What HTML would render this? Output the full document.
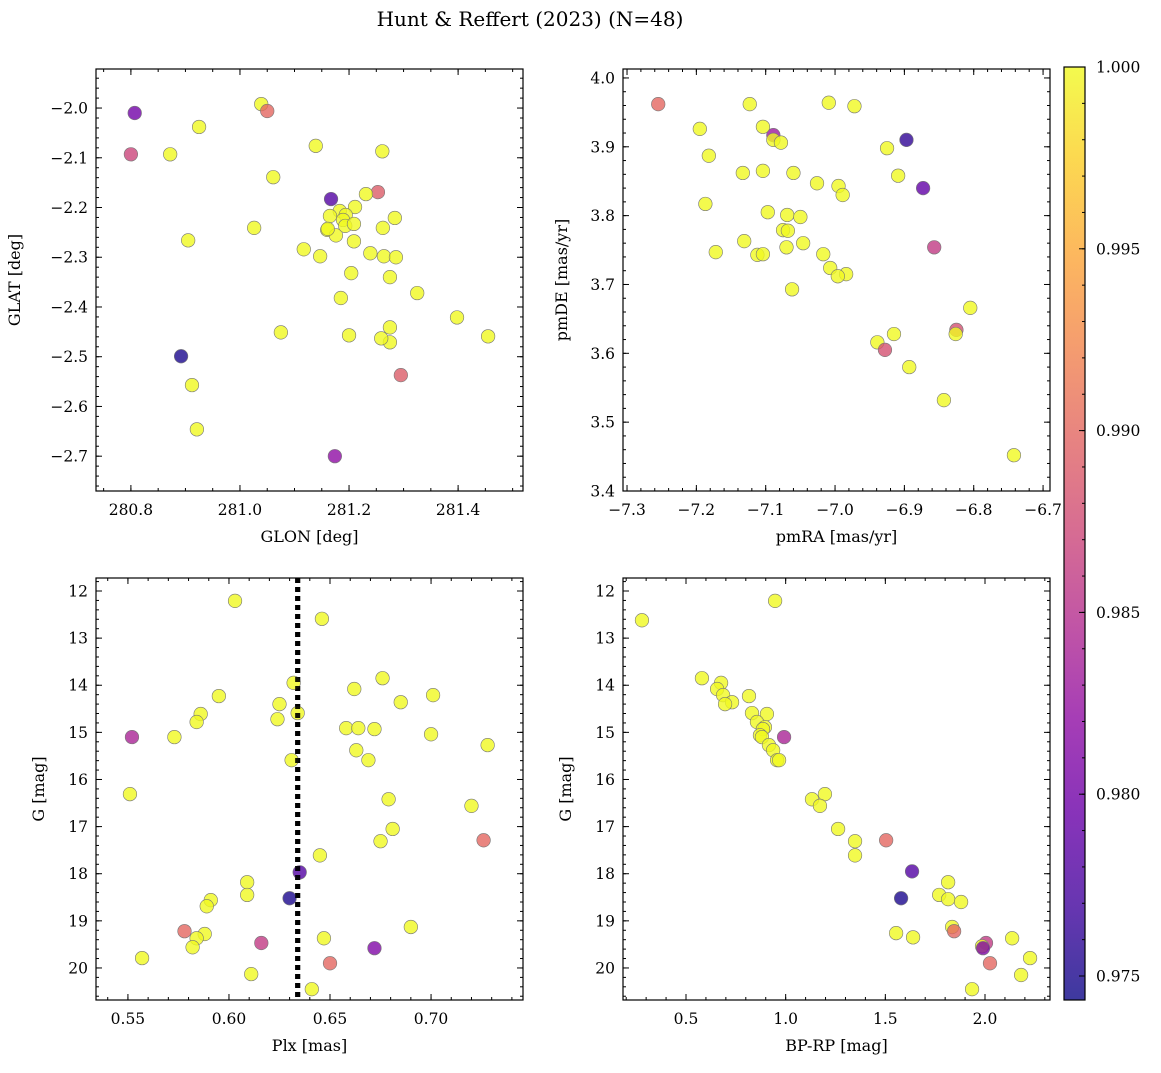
<!DOCTYPE html>
<html><head><meta charset="utf-8"><style>
body{margin:0;background:#fff;}
svg text{font-family:"DejaVu Serif","Liberation Serif",serif;fill:#000;}
</style></head><body>
<svg id="fig" width="1161" height="1068" viewBox="0 0 1161 1068" xmlns="http://www.w3.org/2000/svg">
<defs>
<linearGradient id="plasma" x1="0" y1="1" x2="0" y2="0">
<stop offset="0" stop-color="#0d0887"/><stop offset="0.1" stop-color="#41049d"/><stop offset="0.2" stop-color="#6a00a8"/><stop offset="0.3" stop-color="#8f0da4"/><stop offset="0.4" stop-color="#b12a90"/><stop offset="0.5" stop-color="#cc4778"/><stop offset="0.6" stop-color="#e16462"/><stop offset="0.7" stop-color="#f2844b"/><stop offset="0.8" stop-color="#fca636"/><stop offset="0.9" stop-color="#fcce25"/><stop offset="1" stop-color="#f0f921"/>
</linearGradient>
</defs>
<text x="530" y="26" font-size="20" text-anchor="middle">Hunt &amp; Reffert (2023) (N=48)</text>
</svg>
<script>
// ---- data ----
const p1x=[280.807,280.800,280.872,280.925,281.039,281.050,281.061,281.139,281.261,281.253,281.167,281.231,281.211,281.183,281.194,281.165,281.189,281.160,281.176,281.193,281.209,281.209,281.262,281.284,281.239,281.264,281.286,281.117,281.026,280.905,281.147,281.204,281.185,281.200,281.275,281.259,281.275,281.325,281.398,281.455,281.075,280.892,280.912,280.921,281.174,281.295,281.161,281.275];
const p1y=[-2.010,-2.093,-2.093,-2.038,-1.992,-2.006,-2.139,-2.076,-2.087,-2.169,-2.183,-2.173,-2.199,-2.207,-2.215,-2.217,-2.225,-2.245,-2.256,-2.237,-2.233,-2.268,-2.241,-2.221,-2.292,-2.298,-2.300,-2.284,-2.241,-2.266,-2.298,-2.332,-2.382,-2.457,-2.471,-2.463,-2.441,-2.372,-2.421,-2.459,-2.451,-2.499,-2.557,-2.646,-2.700,-2.537,-2.243,-2.340];
const p1c=[0.980,0.987,1,1,1,0.990,1,1,1,0.989,0.978,1,1,1,1,1,1,1,1,1,1,1,1,1,1,1,1,1,1,1,1,1,1,1,1,1,1,1,1,1,1,0.975,1,1,0.982,0.989,1,1];
const p2x=[-7.255,-7.195,-7.123,-7.009,-6.972,-7.089,-7.104,-7.089,-7.078,-6.897,-6.925,-7.182,-7.133,-7.104,-7.060,-6.909,-6.873,-7.026,-6.995,-6.989,-7.187,-7.097,-7.069,-7.050,-7.075,-7.068,-7.131,-7.046,-7.070,-7.172,-7.112,-7.104,-7.017,-6.857,-7.007,-6.984,-6.996,-7.062,-6.805,-6.825,-6.826,-6.915,-6.939,-6.928,-6.893,-6.843,-6.742];
const p2y=[3.962,3.926,3.962,3.964,3.959,3.917,3.929,3.910,3.906,3.910,3.898,3.887,3.862,3.865,3.862,3.858,3.840,3.847,3.843,3.830,3.817,3.805,3.801,3.798,3.779,3.778,3.763,3.760,3.754,3.747,3.743,3.744,3.744,3.754,3.724,3.715,3.712,3.693,3.666,3.634,3.628,3.628,3.616,3.605,3.580,3.532,3.452];
const p2c=[0.990,1,1,1,1,0.983,1,1,1,0.976,1,1,1,1,1,1,0.979,1,1,1,1,1,1,1,1,1,1,1,1,1,1,1,1,0.986,1,1,1,1,1,0.988,1,1,1,0.988,1,1,1];
const p3x=[0.603,0.646,0.632,0.676,0.662,0.595,0.701,0.685,0.625,0.634,0.586,0.624,0.584,0.658,0.664,0.672,0.573,0.552,0.700,0.728,0.663,0.631,0.669,0.551,0.679,0.720,0.681,0.675,0.726,0.645,0.635,0.609,0.609,0.630,0.591,0.589,0.690,0.578,0.588,0.584,0.647,0.616,0.582,0.672,0.557,0.650,0.611,0.641];
const p3y=[12.21,12.59,13.95,13.85,14.08,14.23,14.21,14.36,14.40,14.59,14.61,14.72,14.78,14.91,14.91,14.93,15.10,15.10,15.04,15.27,15.38,15.59,15.59,16.31,16.42,16.56,17.05,17.31,17.29,17.61,17.97,18.18,18.45,18.52,18.56,18.69,19.13,19.22,19.28,19.37,19.37,19.47,19.56,19.58,19.79,19.90,20.13,20.45];
const p3c=[1,1,1,1,1,1,1,1,1,1,1,1,1,1,1,1,1,0.984,1,1,1,1,1,1,1,1,1,1,0.990,1,0.978,1,1,0.975,1,1,1,0.990,1,1,1,0.986,1,0.981,1,0.990,1,1];
const p4x=[0.279,0.947,0.580,0.676,0.656,0.686,0.816,0.731,0.696,0.831,0.906,0.856,0.896,0.886,0.871,0.881,0.992,0.916,0.937,0.957,0.967,1.197,1.132,1.172,1.263,1.348,1.504,1.348,1.634,1.579,1.815,1.770,1.815,1.880,1.835,1.845,1.554,1.639,2.136,2.005,1.985,1.990,2.226,2.025,2.181,1.935];
const p4y=[12.62,12.21,13.85,13.95,14.08,14.21,14.23,14.36,14.40,14.59,14.61,14.78,14.89,14.93,15.06,15.10,15.10,15.27,15.38,15.59,15.59,16.31,16.42,16.56,17.05,17.31,17.29,17.61,17.95,18.52,18.18,18.45,18.54,18.60,19.13,19.22,19.26,19.35,19.37,19.47,19.54,19.58,19.79,19.90,20.15,20.45];
const p4c=[1,1,1,1,1,1,1,1,1,1,1,1,1,1,1,1,0.984,1,1,1,1,1,1,1,1,1,0.990,1,0.978,0.975,1,1,1,1,1,0.990,1,1,1,0.986,1,0.981,1,0.990,1,1];
const p1xt=[280.8,281.0,281.2,281.4], p1yt=[-2.0,-2.1,-2.2,-2.3,-2.4,-2.5,-2.6,-2.7];
const p2xt=[-7.3,-7.2,-7.1,-7.0,-6.9,-6.8,-6.7], p2yt=[3.4,3.5,3.6,3.7,3.8,3.9,4.0];
const p3xt=[0.55,0.60,0.65,0.70], gyt=[12,13,14,15,16,17,18,19,20];
const p4xt=[0.5,1.0,1.5,2.0];
const cbt=[0.975,0.980,0.985,0.990,0.995,1.000];
const plxMean=0.634;

const NS='http://www.w3.org/2000/svg';
const svg=document.getElementById('fig');
function mk(tag,attrs,parent){const e=document.createElementNS(NS,tag);for(const k in attrs)e.setAttribute(k,attrs[k]);(parent||svg).appendChild(e);return e;}
const stops=[[0,[13,8,135]],[0.1,[65,4,157]],[0.2,[106,0,168]],[0.3,[143,13,164]],[0.4,[177,42,144]],[0.5,[204,71,120]],[0.6,[225,100,98]],[0.7,[242,132,75]],[0.8,[252,166,54]],[0.9,[252,206,37]],[1,[240,249,33]]];
const cmin=0.97434,cmax=1.0;
function cmap(v){let t=(v-cmin)/(cmax-cmin);t=Math.max(0,Math.min(1,t));for(let i=1;i<stops.length;i++){if(t<=stops[i][0]){const a=stops[i-1],b=stops[i];const f=(t-a[0])/(b[0]-a[0]);const c=a[1].map((x,j)=>Math.round(x+(b[1][j]-x)*f));return 'rgb('+c.join(',')+')';}}return 'rgb(240,249,33)';}
function fmt(v,d){const s=Math.abs(v).toFixed(d);return (v<0?'\u2212':'')+s;}

function panel(o){
  const g=mk('g',{});
  
  
  const X=v=>o.L+(v-o.x0)/(o.x1-o.x0)*(o.R-o.L);
  const Y=v=>o.B-(v-o.y0)/(o.y1-o.y0)*(o.B-o.T);
  if(o.vline!==undefined){const l=mk('line',{x1:X(o.vline),x2:X(o.vline),y1:o.T,y2:o.B,stroke:'#000','stroke-width':5,'stroke-dasharray':'5,4'},g);}
  for(let i=0;i<o.xs.length;i++){
    const c=mk('circle',{cx:X(o.xs[i]),cy:Y(o.ys[i]),r:6.8,fill:cmap(o.cs[i]),'fill-opacity':0.8,stroke:'#777','stroke-width':0.6},g);
    
    
  }
  if(o.vline!==undefined){mk('line',{x1:X(o.vline),x2:X(o.vline),y1:o.T,y2:o.B,stroke:'#000','stroke-width':5,'stroke-dasharray':'5,4','stroke-opacity':0.9},g);}
  mk('rect',{x:o.L,y:o.T,width:o.R-o.L,height:o.B-o.T,fill:'none',stroke:'#000','stroke-width':1.2},g);
  const eps=1e-9;
  for(let v=Math.ceil(Math.min(o.x0,o.x1)/o.xm-eps)*o.xm;v<=Math.max(o.x0,o.x1)+eps;v+=o.xm){const x=X(v);if(x<o.L||x>o.R)continue;mk('line',{x1:x,x2:x,y1:o.B,y2:o.B-3,stroke:'#000'},g);mk('line',{x1:x,x2:x,y1:o.T,y2:o.T+3,stroke:'#000'},g);}
  for(let v=Math.ceil(Math.min(o.y0,o.y1)/o.ym-eps)*o.ym;v<=Math.max(o.y0,o.y1)+eps;v+=o.ym){const y=Y(v);if(y<o.T||y>o.B)continue;mk('line',{x1:o.L,x2:o.L+3,y1:y,y2:y,stroke:'#000'},g);mk('line',{x1:o.R,x2:o.R-3,y1:y,y2:y,stroke:'#000'},g);}
  o.xt.forEach(v=>{const x=X(v);mk('line',{x1:x,x2:x,y1:o.B,y2:o.B-6,stroke:'#000'},g);mk('line',{x1:x,x2:x,y1:o.T,y2:o.T+6,stroke:'#000'},g);
    const t=mk('text',{x:x,y:o.B+24,'font-size':15.5,'text-anchor':'middle'},g);t.textContent=fmt(v,o.xd);});
  o.yt.forEach(v=>{const y=Y(v);mk('line',{x1:o.L,x2:o.L+6,y1:y,y2:y,stroke:'#000'},g);mk('line',{x1:o.R,x2:o.R-6,y1:y,y2:y,stroke:'#000'},g);
    const t=mk('text',{x:o.L-8,y:y+5.5,'font-size':15.5,'text-anchor':'end'},g);t.textContent=fmt(v,o.yd);});
  const xl=mk('text',{x:(o.L+o.R)/2,y:o.B+51,'font-size':16,'text-anchor':'middle'},g);xl.textContent=o.xlab;
  const yx=o.L-o.ylo,yy=(o.T+o.B)/2;
  const yl=mk('text',{x:yx,y:yy,'font-size':16,'text-anchor':'middle',transform:'rotate(-90 '+yx+' '+yy+')'},g);yl.textContent=o.ylab;
}
panel({name:'glon-glat-panel',L:96,R:523,T:69,B:491,x0:280.736,x1:281.519,y0:-2.770,y1:-1.9215,xs:p1x,ys:p1y,cs:p1c,xt:p1xt,yt:p1yt,xm:0.05,ym:0.02,xd:1,yd:1,xlab:'GLON [deg]',ylab:'GLAT [deg]',ylo:76});
panel({name:'proper-motion-panel',L:623,R:1050,T:69,B:491,x0:-7.3058,x1:-6.690,y0:3.4,y1:4.013,xs:p2x,ys:p2y,cs:p2c,xt:p2xt,yt:p2yt,xm:0.02,ym:0.02,xd:1,yd:1,xlab:'pmRA [mas/yr]',ylab:'pmDE [mas/yr]',ylo:56});
panel({name:'parallax-mag-panel',L:96,R:523,T:578,B:1000,x0:0.5342,x1:0.7455,y0:20.68,y1:11.724,xs:p3x,ys:p3y,cs:p3c,xt:p3xt,yt:gyt,xm:0.01,ym:0.2,xd:2,yd:0,xlab:'Plx [mas]',ylab:'G [mag]',ylo:52,vline:plxMean});
panel({name:'cmd-panel',L:623,R:1050,T:578,B:1000,x0:0.184,x1:2.326,y0:20.68,y1:11.724,xs:p4x,ys:p4y,cs:p4c,xt:p4xt,yt:gyt,xm:0.1,ym:0.2,xd:1,yd:0,xlab:'BP-RP [mag]',ylab:'G [mag]',ylo:52});
const cb=mk('g',{});


const cT=67,cB=1000,cL=1064,cR=1085;
mk('rect',{x:cL,y:cT,width:cR-cL,height:cB-cT,fill:'url(#plasma)','fill-opacity':0.8},cb);
mk('rect',{x:cL,y:cT,width:cR-cL,height:cB-cT,fill:'none',stroke:'#000','stroke-width':1.2},cb);
const CY=v=>cB-(v-cmin)/(cmax-cmin)*(cB-cT);
for(let v=0.975;v<=1.00001;v+=0.001){mk('line',{x1:cR,x2:cR-3,y1:CY(v),y2:CY(v),stroke:'#000'},cb);}
cbt.forEach(v=>{const y=CY(v);mk('line',{x1:cR,x2:cR-6,y1:y,y2:y,stroke:'#000'},cb);const t=mk('text',{x:1096,y:y+5.5,'font-size':15.5},cb);t.textContent=v.toFixed(3);});
</script>
</body></html>
